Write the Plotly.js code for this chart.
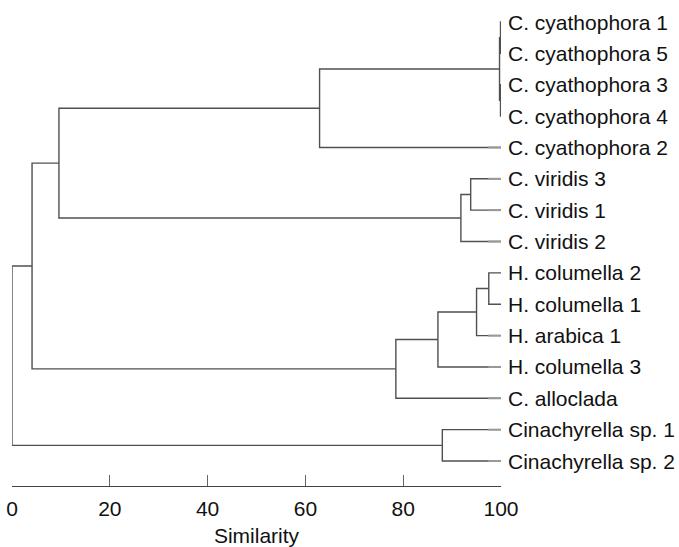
<!DOCTYPE html>
<html>
<head>
<meta charset="utf-8">
<script src="https://cdn.plot.ly/plotly-3.0.1.min.js"></script>
<style>html,body{margin:0;padding:0;background:#fff}#chart{width:679px;height:547px}</style>
</head>
<body>
<div id="chart"></div>
<script>
// Leaf labels, top to bottom
var leafLabels = [
  "C. cyathophora 1", "C. cyathophora 5", "C. cyathophora 3", "C. cyathophora 4",
  "C. cyathophora 2", "C. viridis 3", "C. viridis 1", "C. viridis 2",
  "H. columella 2", "H. columella 1", "H. arabica 1", "H. columella 3",
  "C. alloclada", "Cinachyrella sp. 1", "Cinachyrella sp. 2"
];
// Merge table (node ids: leaves 0..14, merged nodes 15..)
var mergeLeft   = [0, 2, 15, 17, 5, 19, 18, 8, 22, 23, 24, 21, 13, 26];
var mergeRight  = [1, 3, 16, 4, 6, 7, 20, 9, 10, 11, 12, 25, 14, 27];
var mergeHeight = [99.9, 99.9, 99.7, 62.9, 93.8, 91.8, 9.6, 97.5, 95.0, 87.1, 78.5, 4.1, 88.0, 0.0];
var leafSimilarity = 100;
var tickValues = [0, 20, 40, 60, 80, 100];

var nLeaf = leafLabels.length;
var nodeX = [], nodeY = [], parentH = [];
for (var i = 0; i < nLeaf; i++) { nodeX.push(leafSimilarity); nodeY.push(i); parentH.push(null); }
var lx = [], ly = [];
for (var m = 0; m < mergeLeft.length; m++) {
  var a = mergeLeft[m], b = mergeRight[m], h = mergeHeight[m];
  lx.push(nodeX[a], h, h, nodeX[b], null);
  ly.push(nodeY[a], nodeY[a], nodeY[b], nodeY[b], null);
  parentH[a] = h; parentH[b] = h;
  nodeX.push(h); nodeY.push((nodeY[a] + nodeY[b]) / 2); parentH.push(null);
}
// light end stubs on leaves
var sx = [], sy = [];
var stubStart = 97.4;
for (var i = 0; i < nLeaf; i++) {
  if (parentH[i] < stubStart) { sx.push(stubStart, leafSimilarity, null); sy.push(i, i, null); }
}

var traces = [
  {x: lx, y: ly, mode: 'lines', type: 'scatter', line: {color: '#505050', width: 1.4}, hoverinfo: 'skip', cliponaxis: false},
  {x: sx, y: sy, mode: 'lines', type: 'scatter', line: {color: '#9a9a9a', width: 2}, hoverinfo: 'skip', cliponaxis: false}
];

var annotations = leafLabels.map(function (t, i) {
  return {x: leafSimilarity, y: i, xref: 'x', yref: 'y', text: t, showarrow: false,
          xanchor: 'left', yanchor: 'middle', xshift: 5,
          font: {family: 'Liberation Sans, Arial, sans-serif', size: 21, color: '#111'}};
});

var layout = {
  width: 679, height: 547,
  margin: {l: 12, r: 178, t: 10, b: 61},
  paper_bgcolor: '#fff', plot_bgcolor: '#fff',
  showlegend: false,
  font: {family: 'Liberation Sans, Arial, sans-serif', color: '#111'},
  xaxis: {
    range: [0, 100], showgrid: false, zeroline: false,
    showline: true, linecolor: '#444', linewidth: 1.3,
    ticks: 'inside', ticklen: 11, tickcolor: '#666', tickwidth: 1,
    tickvals: tickValues, ticktext: tickValues.map(String),
    ticklabelstandoff: 3,
    tickfont: {size: 21, color: '#111'},
    title: {text: 'Similarity', font: {size: 21, color: '#111'}, standoff: 14}
  },
  yaxis: {
    range: [14.797, -0.383], showgrid: false, zeroline: false, showline: false,
    showticklabels: false, ticks: ''
  },
  annotations: annotations
};

Plotly.newPlot('chart', traces, layout, {displayModeBar: false, staticPlot: true});
</script>
</body>
</html>
